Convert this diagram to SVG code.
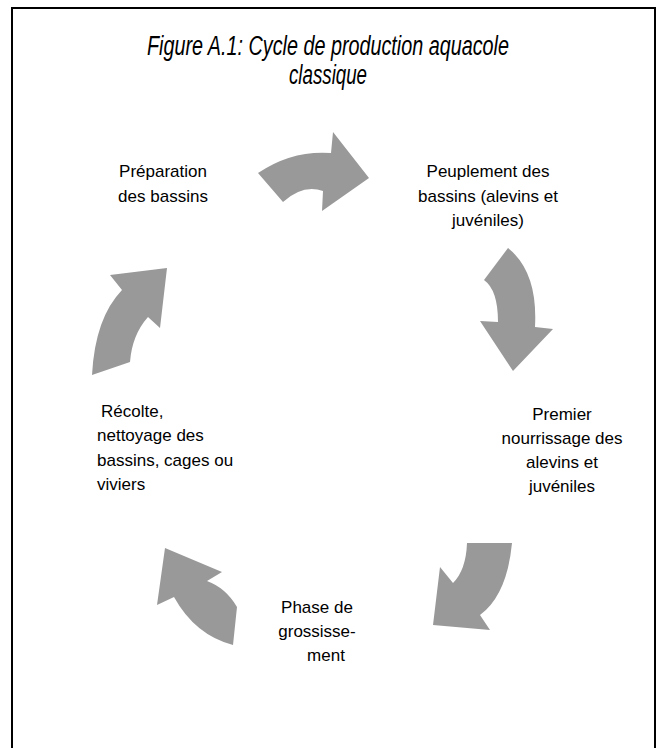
<svg xmlns="http://www.w3.org/2000/svg" width="665" height="748" viewBox="0 0 665 748">
<style>
.frame{fill:#fff;stroke:#000;stroke-width:2}
.title{font-family:"Liberation Sans Narrow","Liberation Sans",Arial,sans-serif;font-style:italic;font-size:27px;fill:#000}
.lbl{font-family:"Liberation Sans",Arial,sans-serif;font-size:17px;fill:#000}
.arrow{fill:#999999;stroke:none}
</style>
<rect x="0" y="0" width="665" height="748" fill="#fff"/>
<rect class="frame" x="12" y="8" width="643" height="760"/>
<g id="title">
<text class="title" x="328" y="55" text-anchor="middle" textLength="362" lengthAdjust="spacingAndGlyphs">Figure A.1: Cycle de production aquacole</text>
<text class="title" x="328" y="84" text-anchor="middle" textLength="78" lengthAdjust="spacingAndGlyphs">classique</text>
</g>
<g id="connectors">
<path class="arrow" d="M258,173 Q292,150 331,153 L333,132 L369,178 L322,211 L323,191 Q303,184 283,202 Z"/>
<path class="arrow" d="M508,248 L484,280 Q498,290 498,322 L480,321 L513,371 L553,329 L535,327 Q538,272 508,248 Z"/>
<path class="arrow" d="M467,543 L512,543 Q507,595 480,615 L490,630 L433,625 L440,567 L453,583 Q466,570 467,543 Z"/>
<path class="arrow" d="M165,548 L222,572 L207,581 Q226,588 237,607 L233,645 Q195,635 174,597 L157,605 Z"/>
<path class="arrow" d="M167,268 L160,328 L148,317 Q132,335 130,362 L92,375 Q95,318 122,290 L110,275 Z"/>
</g>
<g id="node-preparation">
<text class="lbl" x="163" y="177" text-anchor="middle">Préparation</text>
<text class="lbl" x="163" y="202" text-anchor="middle">des bassins</text>
</g>
<g id="node-peuplement">
<text class="lbl" x="488" y="177" text-anchor="middle">Peuplement des</text>
<text class="lbl" x="488" y="202" text-anchor="middle">bassins (alevins et</text>
<text class="lbl" x="488" y="226" text-anchor="middle">juvéniles)</text>
</g>
<g id="node-nourrissage">
<text class="lbl" x="562" y="420" text-anchor="middle">Premier</text>
<text class="lbl" x="562" y="444" text-anchor="middle">nourrissage des</text>
<text class="lbl" x="562" y="468" text-anchor="middle">alevins et</text>
<text class="lbl" x="562" y="492" text-anchor="middle">juvéniles</text>
</g>
<g id="node-grossissement">
<text class="lbl" x="317" y="613" text-anchor="middle">Phase de</text>
<text class="lbl" x="317" y="637" text-anchor="middle">grossisse-</text>
<text class="lbl" x="326" y="661" text-anchor="middle">ment</text>
</g>
<g id="node-recolte">
<text class="lbl" x="101" y="417">Récolte,</text>
<text class="lbl" x="97" y="441">nettoyage des</text>
<text class="lbl" x="97" y="466">bassins, cages ou</text>
<text class="lbl" x="97" y="490">viviers</text>
</g>
</svg>
